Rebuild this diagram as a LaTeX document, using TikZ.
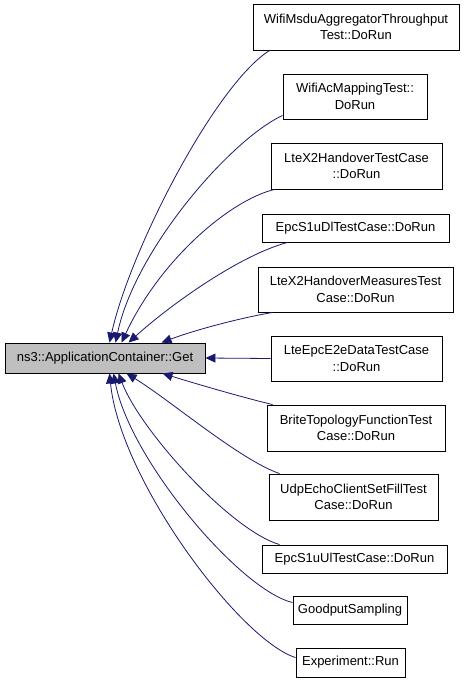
\documentclass[tikz,border=0pt]{standalone}
\usepackage{fontspec}
\setmainfont{Liberation Sans}
\usetikzlibrary{arrows.meta,calc}
\definecolor{edgeblue}{HTML}{191970}
\definecolor{maingray}{HTML}{BFBFBF}
\begin{document}
\begin{tikzpicture}[x=1pt,y=-1pt,
  box/.style={draw=black, fill=white, line width=0.9pt, inner sep=0pt, align=center, font=\fontsize{13}{16.5}\selectfont},
  edge/.style={draw=edgeblue, line width=0.8pt, -{Triangle[length=10pt,width=9pt]}}]
\useasboundingbox (0,0) rectangle (464,685);
\node[box, fill=maingray, minimum width=200pt, minimum height=30pt] (m) at (105,358) {ns3::ApplicationContainer::Get};
\node[box, minimum width=206pt, minimum height=46pt] (b1) at (356,27) {WifiMsduAggregatorThroughput\\Test::DoRun};
\node[box, minimum width=144pt, minimum height=45pt] (b2) at (355,96.5) {WifiAcMappingTest::\\DoRun};
\node[box, minimum width=171pt, minimum height=46pt] (b3) at (356.5,166) {LteX2HandoverTestCase\\::DoRun};
\node[box, minimum width=187pt, minimum height=28pt] (b4) at (355.5,228) {EpcS1uDlTestCase::DoRun};
\node[box, minimum width=195pt, minimum height=45pt] (b5) at (355.5,289.5) {LteX2HandoverMeasuresTest\\Case::DoRun};
\node[box, minimum width=171pt, minimum height=45pt] (b6) at (356.5,358.5) {LteEpcE2eDataTestCase\\::DoRun};
\node[box, minimum width=178pt, minimum height=46pt] (b7) at (356,428) {BriteTopologyFunctionTest\\Case::DoRun};
\node[box, minimum width=169pt, minimum height=46pt] (b8) at (353.5,497) {UdpEchoClientSetFillTest\\Case::DoRun};
\node[box, minimum width=185pt, minimum height=28pt] (b9) at (354.5,559) {EpcS1uUlTestCase::DoRun};
\node[box, minimum width=114pt, minimum height=28pt] (b10) at (350,610) {GoodputSampling};
\node[box, minimum width=109pt, minimum height=29pt] (b11) at (350.5,662.5) {Experiment::Run};
% edges above
\draw[edge] ($(b1.south west)+(17,0)$) .. controls (215,85) and (130,250) .. ($(m.north west)+(105,0)$);
\draw[edge] ($(b2.south west)+(0,-4)$) .. controls (230,140) and (135,250) .. ($(m.north west)+(111,0)$);
\draw[edge] ($(b3.south west)+(4,0)$) .. controls (230,200) and (160,260) .. ($(m.north west)+(117,0)$);
\draw[edge] ($(b4.south west)+(26,0)$) .. controls (240,255) and (170,305) .. ($(m.north west)+(124,0)$);
\draw[edge] ($(b5.south west)+(15,0)$) .. controls (240,318) and (195,330) .. ($(m.north west)+(157,0)$);
\draw[edge] (b6.west) -- (m.east);
% edges below
\draw[edge] ($(b7.north west)+(6,0)$) .. controls (245,398) and (200,385) .. ($(m.south west)+(158,0)$);
\draw[edge] ($(b8.north west)+(11,0)$) .. controls (240,460) and (170,400) .. ($(m.south west)+(122,0)$);
\draw[edge] ($(b9.north west)+(18,0)$) .. controls (230,530) and (140,430) .. ($(m.south west)+(114,0)$);
\draw[edge] ($(b10.north west)+(0,7)$) .. controls (240,590) and (130,460) .. ($(m.south west)+(109,0)$);
\draw[edge] ($(b11.north west)+(0,10)$) .. controls (240,640) and (120,480) .. ($(m.south west)+(105,0)$);
\end{tikzpicture}
\end{document}
